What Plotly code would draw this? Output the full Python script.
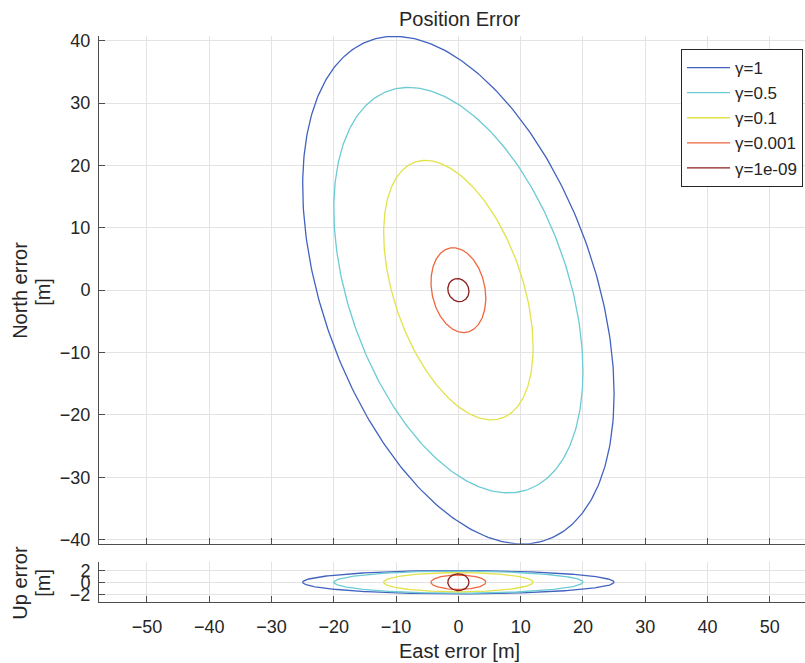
import numpy as np
import plotly.graph_objects as go

# ---- data (ellipse parameters) ----
labels = ["γ=1", "γ=0.5", "γ=0.1", "γ=0.001", "γ=1e-09"]
east_extent = [25.0, 20.0, 12.0, 4.4, 1.7]      # max |East| on each ellipse [m]
north_extent = [40.7, 32.5, 20.8, 6.8, 1.85]    # max |North| [m]
east_north_corr = [-0.41, -0.40, -0.44, -0.19, -0.10]
up_extent = [1.95, 1.85, 1.6, 1.2, 1.4]         # max |Up| [m]
east_up_corr = [0.0, 0.0, 0.0, 0.0, 0.0]
colors = ["#4262bf", "#6ccbd4", "#e2e24a", "#f0663e", "#8b1c1c"]

x_ticks = [-50, -40, -30, -20, -10, 0, 10, 20, 30, 40, 50]
n_ticks = [-40, -30, -20, -10, 0, 10, 20, 30, 40]
u_ticks = [-2, 0, 2]

t = np.linspace(0, 2 * np.pi, 361)


def ellipse(a, b, rho):
    x = a * np.cos(t)
    y = b * (rho * np.cos(t) + np.sqrt(1 - rho ** 2) * np.sin(t))
    return x, y


FONT = "Liberation Sans, Arial, Helvetica, sans-serif"
TXT = "#262626"
TICK_FS = 18
LABEL_FS = 20

fig = go.Figure()
for i, name in enumerate(labels):
    ex, ny = ellipse(east_extent[i], north_extent[i], east_north_corr[i])
    fig.add_trace(go.Scatter(x=ex, y=ny, mode="lines", name=name,
                             legendgroup=name,
                             line=dict(color=colors[i], width=1.3),
                             xaxis="x", yaxis="y", showlegend=True))
for i, name in enumerate(labels):
    ex, uy = ellipse(east_extent[i], up_extent[i], east_up_corr[i])
    fig.add_trace(go.Scatter(x=ex, y=uy, mode="lines", name=name,
                             legendgroup=name,
                             line=dict(color=colors[i], width=1.3),
                             xaxis="x2", yaxis="y2", showlegend=False))

W, H = 805, 663
L, R, T, B = 99, 0, 36, 663 - 602.3
plot_h = H - T - B
plot_w = W - L - R
top_dom = [(602.3 - 544) / plot_h, 1]
bot_dom = [0, (602.3 - 562.7) / plot_h]


def px_x(px):
    return (px - L) / plot_w


def px_y(py):
    return (H - B - py) / plot_h


axis_common = dict(showline=True, linecolor="#4d4d4d", linewidth=1,
                   ticks="inside", ticklen=6, tickcolor="#4d4d4d",
                   showgrid=True, gridcolor="#e3e3e3", gridwidth=1,
                   zeroline=False, mirror=False,
                   tickfont=dict(family=FONT, size=TICK_FS, color=TXT))

xr = [-57.7, 55.65]


def ann(text, px, py, angle=0, size=LABEL_FS):
    return dict(text=text, textangle=angle, showarrow=False,
                xref="paper", yref="paper", x=px_x(px), y=px_y(py),
                xanchor="center", yanchor="middle",
                font=dict(family=FONT, size=size, color=TXT))


fig.update_layout(
    width=W, height=H,
    margin=dict(l=L, r=R, t=T, b=B, pad=0),
    plot_bgcolor="white", paper_bgcolor="white",
    xaxis=dict(axis_common, domain=[0, 1], range=xr, tickvals=x_ticks,
               showticklabels=False, anchor="y"),
    yaxis=dict(axis_common, domain=top_dom, range=[-40.66, 40.75],
               tickvals=n_ticks, anchor="x", ticklabelstandoff=4),
    xaxis2=dict(axis_common, domain=[0, 1], range=xr, tickvals=x_ticks,
                anchor="y2", ticklabelstandoff=8),
    yaxis2=dict(axis_common, domain=bot_dom, range=[-3.3, 3.3],
                tickvals=u_ticks, anchor="x2", ticklabelstandoff=4),
    showlegend=True,
    legend=dict(x=px_x(803), xanchor="right",
                y=px_y(49), yanchor="top",
                bgcolor="white", bordercolor="#262626", borderwidth=1,
                font=dict(family=FONT, size=17, color=TXT),
                tracegroupgap=0, itemwidth=43),
    annotations=[
        ann("Position Error", 459, 19),
        ann("East error [m]", 459, 651),
        ann("North error", 20, 291, -90),
        ann("[m]", 43, 292, -90),
        ann("Up error", 20, 583, -90),
        ann("[m]", 43, 583, -90),
    ],
)

fig.write_html("out.html")
